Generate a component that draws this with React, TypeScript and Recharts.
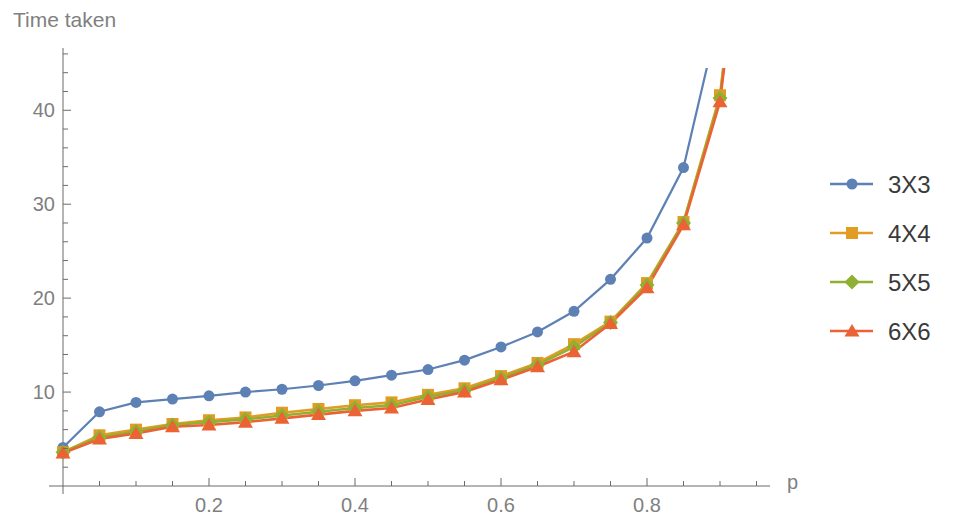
import React from 'react';
import { LineChart, Line, XAxis, YAxis, ReferenceLine } from 'recharts';

const pValues = [0, 0.05, 0.1, 0.15, 0.2, 0.25, 0.3, 0.35, 0.4, 0.45, 0.5, 0.55, 0.6, 0.65, 0.7, 0.75, 0.8, 0.85, 0.9, 0.95];
const time3x3 = [4.1, 7.9, 8.9, 9.25, 9.6, 10.0, 10.3, 10.7, 11.2, 11.8, 12.4, 13.4, 14.8, 16.4, 18.6, 22.0, 26.4, 33.9, 50.5, 120];
const time4x4 = [3.6, 5.4, 6.0, 6.6, 7.0, 7.3, 7.8, 8.2, 8.6, 8.9, 9.7, 10.4, 11.7, 13.1, 15.1, 17.5, 21.6, 28.1, 41.6, 75];
const time5x5 = [3.6, 5.2, 5.8, 6.5, 6.8, 7.1, 7.5, 7.9, 8.3, 8.6, 9.5, 10.2, 11.5, 12.9, 14.8, 17.4, 21.4, 28.0, 41.3, 74];
const time6x6 = [3.5, 5.0, 5.6, 6.3, 6.5, 6.8, 7.2, 7.6, 8.0, 8.3, 9.2, 10.0, 11.3, 12.7, 14.3, 17.3, 21.1, 27.8, 40.9, 73];

const seriesNames = ['3X3', '4X4', '5X5', '6X6'];
const seriesKeys = ['s3', 's4', 's5', 's6'];
const seriesColors = ['#5E81B5', '#E19C24', '#8FB032', '#EB6235'];
const seriesShapes = ['circle', 'square', 'diamond', 'triangle'];

const xTicks = [0.05, 0.1, 0.15, 0.2, 0.25, 0.3, 0.35, 0.4, 0.45, 0.5, 0.55, 0.6, 0.65, 0.7, 0.75, 0.8, 0.85, 0.9, 0.95];
const xMajorTicks = [0.2, 0.4, 0.6, 0.8];
const xTickLabels = ['0.2', '0.4', '0.6', '0.8'];
const yTicks = [2, 4, 6, 8, 10, 12, 14, 16, 18, 20, 22, 24, 26, 28, 30, 32, 34, 36, 38, 40, 42, 44, 46];
const yMajorTicks = [10, 20, 30, 40];

const data = pValues.map((p, i) => ({
  p,
  s3: time3x3[i],
  s4: time4x4[i],
  s5: time5x5[i],
  s6: time6x6[i],
}));

const AXIS_COLOR = '#6b6b6b';
const LABEL_COLOR = '#7f7f7f';
const FONT = '"Liberation Sans", Arial, sans-serif';

function Marker({ shape, cx, cy, color }: { shape: string; cx: number; cy: number; color: string }) {
  if (cx == null || cy == null || isNaN(cx) || isNaN(cy)) return null;
  switch (shape) {
    case 'circle':
      return <circle cx={cx} cy={cy} r={5.5} fill={color} />;
    case 'square':
      return <rect x={cx - 6} y={cy - 6} width={12} height={12} fill={color} />;
    case 'diamond':
      return <polygon points={`${cx},${cy - 7.5} ${cx + 7.5},${cy} ${cx},${cy + 7.5} ${cx - 7.5},${cy}`} fill={color} />;
    default:
      return <polygon points={`${cx},${cy - 7} ${cx + 7.5},${cy + 5.5} ${cx - 7.5},${cy + 5.5}`} fill={color} />;
  }
}

const XTick = (props: any) => {
  const { x, y, payload } = props;
  const v = payload.value;
  const idx = xMajorTicks.findIndex((m) => Math.abs(m - v) < 1e-6);
  const major = idx >= 0;
  const axisY = y - 8;
  return (
    <g>
      <line x1={x} x2={x} y1={axisY} y2={axisY - (major ? 8 : 5)} stroke={AXIS_COLOR} strokeWidth={1} />
      {major && (
        <text x={x} y={y + 18} textAnchor="middle" fontSize={20} fill={LABEL_COLOR} fontFamily={FONT}>
          {xTickLabels[idx]}
        </text>
      )}
    </g>
  );
};

const YTick = (props: any) => {
  const { x, y, payload } = props;
  const v = payload.value;
  const major = yMajorTicks.includes(v);
  const axisX = x + 14;
  return (
    <g>
      <line x1={axisX} x2={axisX + (major ? 8 : 5)} y1={y} y2={y} stroke={AXIS_COLOR} strokeWidth={1} />
      {major && (
        <text x={axisX - 8} y={y + 7} textAnchor="end" fontSize={20} fill={LABEL_COLOR} fontFamily={FONT}>
          {v}
        </text>
      )}
    </g>
  );
};

const XLabel = (props: any) => {
  const vb = props.viewBox;
  return (
    <text x={vb.x + vb.width + 17} y={vb.y - 5} fontSize={20} fill={LABEL_COLOR} fontFamily={FONT}>
      p
    </text>
  );
};

const YLabel = (props: any) => {
  const vb = props.viewBox;
  return (
    <text x={13} y={vb.y - 21} fontSize={21} fill={LABEL_COLOR} fontFamily={FONT}>
      Time taken
    </text>
  );
};

export default function App() {
  return (
    <div style={{ position: 'absolute', left: 0, top: 0, width: 957, height: 522, background: '#fff' }}>
      <style>{`.clip-top .recharts-line-curve { clip-path: url(#lineClipTop); }`}</style>
      <svg width={0} height={0} style={{ position: 'absolute' }}>
        <defs>
          <clipPath id="lineClipTop" clipPathUnits="userSpaceOnUse">
            <rect x={0} y={68} width={957} height={454} />
          </clipPath>
        </defs>
      </svg>
      <LineChart width={957} height={522} data={data} margin={{ top: 48, right: 187, bottom: 0, left: 0 }}>
        <XAxis
          dataKey="p"
          type="number"
          domain={[0, 0.95]}
          ticks={xTicks}
          interval={0}
          padding={{ left: 14, right: 13.5 }}
          height={28}
          axisLine={false}
          tickLine={false}
          tickSize={0}
          tickMargin={0}
          tick={<XTick />}
          label={<XLabel />}
        />
        <YAxis
          type="number"
          domain={[0, 44.5]}
          allowDataOverflow
          ticks={yTicks}
          interval={0}
          padding={{ top: 20, bottom: 8 }}
          width={49}
          axisLine={false}
          tickLine={false}
          tickSize={0}
          tickMargin={0}
          tick={<YTick />}
          label={<YLabel />}
        />
        <ReferenceLine y={0} stroke={AXIS_COLOR} strokeWidth={1} ifOverflow="visible" />
        <ReferenceLine x={0} stroke={AXIS_COLOR} strokeWidth={1} ifOverflow="visible" />
        {seriesKeys.map((k, si) => (
          <Line
            key={k}
            className="clip-top"
            dataKey={k}
            name={seriesNames[si]}
            stroke={seriesColors[si]}
            strokeWidth={si === 0 ? 2.2 : 2.6}
            isAnimationActive={false}
            activeDot={false}
            dot={(props: any) => (
              <Marker
                key={`${k}-${props.index}`}
                shape={seriesShapes[si]}
                cx={props.cx}
                cy={props.cy}
                color={seriesColors[si]}
              />
            )}
          />
        ))}
      </LineChart>
      <svg width={140} height={200} style={{ position: 'absolute', left: 820, top: 160 }}>
        {seriesNames.map((name, i) => {
          const cy = 24 + i * 49;
          return (
            <g key={name}>
              <line x1={10} x2={53} y1={cy} y2={cy} stroke={seriesColors[i]} strokeWidth={2.5} />
              <Marker shape={seriesShapes[i]} cx={32} cy={cy} color={seriesColors[i]} />
              <text x={68} y={cy + 8.5} fontSize={24} fill="#3a3a3a" fontFamily={FONT}>
                {name}
              </text>
            </g>
          );
        })}
      </svg>
    </div>
  );
}
